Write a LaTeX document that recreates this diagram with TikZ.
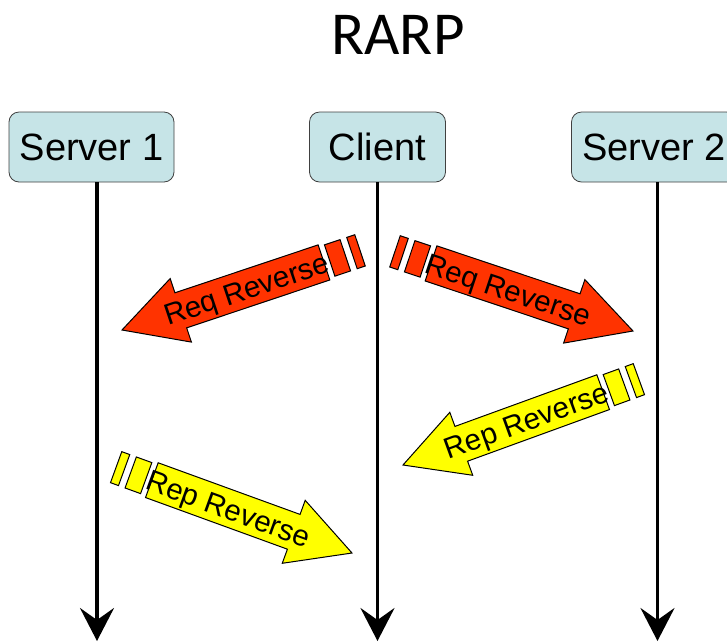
\documentclass[tikz,border=0pt]{standalone}
\usepackage{fontspec}
\setmainfont{Liberation Sans}
\newfontfamily\headfont{Carlito}
\usetikzlibrary{arrows.meta}

\definecolor{hostfill}{RGB}{198,228,231}
\definecolor{reqred}{RGB}{255,51,0}
\definecolor{repyellow}{RGB}{255,255,0}

\begin{document}
\begin{tikzpicture}[
    x=1pt, y=-1pt,
    host/.style={rectangle, rounded corners=10pt, draw=black!75, line width=0.8pt, fill=hostfill, minimum height=70pt, inner sep=0pt, font=\fontsize{38}{40}\selectfont},
    life/.style={line width=3.5pt, -{Stealth[length=33pt, width=34pt, inset=12pt]}},
    block/.style={draw=black, line width=1pt, line join=miter},
    msgtext/.style={font=\fontsize{29.5}{30}\selectfont, inner sep=0pt, text height=21.5pt, text depth=0pt, transform shape}
]
    \useasboundingbox (0,0) rectangle (727,641);
    \clip (0,0) rectangle (727,641);

    % title and the three hosts
    \node[font=\headfont\fontsize{61}{62}\selectfont, inner sep=0pt] (title) at (398,34.5) {RARP};
    \node[host, minimum width=165pt] (server1) at (91.5,147) {Server 1};
    \node[host, minimum width=136pt] (client) at (377.5,147) {Client};
    \node[host, minimum width=165pt] (server2) at (654,147) {Server 2};

    % time lines
    \coordinate (s1end) at (97,641);
    \coordinate (clend) at (377.5,641);
    \coordinate (s2end) at (657.5,641);
    \draw[life] (server1.south -| s1end) -- (s1end);
    \draw[life] (client.south -| clend) -- (clend);
    \draw[life] (server2.south -| s2end) -- (s2end);

    % messages: tip x/y, direction, colour, text turn, label, name
    \foreach \tipx/\tipy/\dir/\col/\turn/\word/\nm in {
        633/331/-18.5/reqred/0/Req Reverse/reqright,
        122/330/198.5/reqred/180/Req Reverse/reqleft,
        403/465/200/repyellow/180/Rep Reverse/repleft,
        352/553/-20/repyellow/0/Rep Reverse/repright}{
        \begin{scope}[shift={(\tipx,\tipy)}, rotate=\dir]
            \draw[block, fill=\col] (0,0) -- (-62,-33.5) -- (-62,-18.5) -- (-213,-18.5)
                -- (-213,18.5) -- (-62,18.5) -- (-62,33.5) -- cycle;
            \draw[block, fill=\col] (-219,-16.5) rectangle (-235.5,16.5);
            \draw[block, fill=\col] (-242.5,-16.5) rectangle (-251,16.5);
            \node[msgtext, rotate=\turn] (\nm) at (-131,0) {\word};
        \end{scope}
    }
\end{tikzpicture}
\end{document}
